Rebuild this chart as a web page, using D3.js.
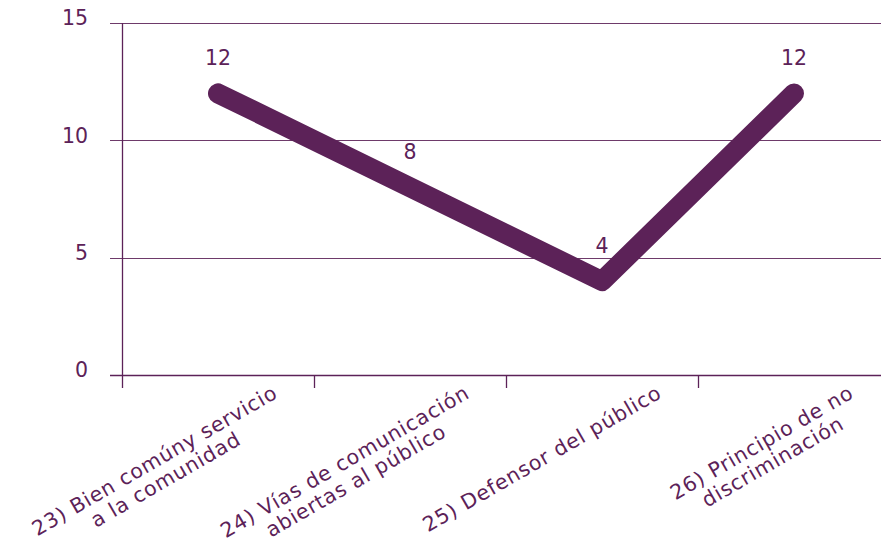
<!DOCTYPE html>
<html>
<head>
<meta charset="utf-8">
<script src="https://cdn.jsdelivr.net/npm/d3@7/dist/d3.min.js"></script>
<style>
  html, body { margin: 0; padding: 0; background: #fff; }
  svg { display: block; }
  text { font-family: "DejaVu Sans", Verdana, sans-serif; fill: #5c2258; }
</style>
</head>
<body>
<svg id="chart" width="881" height="544"></svg>
<script>
// Category labels (each inner array is one wrapped label)
const categories = [
  ["23) Bien comúny servicio", "a la comunidad"],
  ["24) Vías de comunicación", "abiertas al público"],
  ["25) Defensor del público"],
  ["26) Principio de no", "discriminación"]
];
const values = [12, 8, 4, 12];
const yTicks = [0, 5, 10, 15];

const purple = "#5c2258";
const gridColor = "#6e3a6a";
const fontSize = 20.5;

const svg = d3.select("#chart");
const margin = { left: 122, top: 23, bottom: 375 };
const plotRight = 890;

const x = d3.scaleBand()
  .domain(categories.map((d, i) => i))
  .range([margin.left, plotRight])
  .paddingInner(0).paddingOuter(0);

const y = d3.scaleLinear().domain([0, 15]).range([margin.bottom, margin.top]);

// Horizontal gridlines (with the short tick stub left of the axis)
svg.append("g")
  .selectAll("line")
  .data(yTicks.filter(t => t > 0))
  .join("line")
  .attr("x1", margin.left - 12).attr("x2", plotRight)
  .attr("y1", d => Math.round(y(d)) + 0.5).attr("y2", d => Math.round(y(d)) + 0.5)
  .attr("stroke", gridColor).attr("stroke-width", 1);

// Y axis line
svg.append("line")
  .attr("x1", margin.left + 0.5).attr("x2", margin.left + 0.5)
  .attr("y1", y(15)).attr("y2", y(0) + 13)
  .attr("stroke", purple).attr("stroke-width", 1.3);

// X axis line
svg.append("line")
  .attr("x1", margin.left - 12).attr("x2", plotRight)
  .attr("y1", Math.round(y(0)) + 0.5).attr("y2", Math.round(y(0)) + 0.5)
  .attr("stroke", purple).attr("stroke-width", 1.3);

// Category boundary ticks
svg.append("g")
  .selectAll("line")
  .data(categories.map((d, i) => i).slice(1))
  .join("line")
  .attr("x1", d => Math.round(x(d)) + 0.5).attr("x2", d => Math.round(x(d)) + 0.5)
  .attr("y1", y(0)).attr("y2", y(0) + 13)
  .attr("stroke", purple).attr("stroke-width", 1.3);

// Y tick labels
svg.append("g")
  .selectAll("text")
  .data(yTicks)
  .join("text")
  .attr("x", 88)
  .attr("y", d => y(d) - 5)
  .attr("dy", "0.36em")
  .attr("text-anchor", "end")
  .style("font-size", fontSize + "px")
  .text(d => d);

// Value line
const cx = i => x(i) + x.bandwidth() / 2;
const line = d3.line().x((d, i) => cx(i)).y(d => y(d));
svg.append("path")
  .datum(values)
  .attr("d", line)
  .attr("fill", "none")
  .attr("stroke", purple)
  .attr("stroke-width", 20)
  .attr("stroke-linecap", "round")
  .attr("stroke-linejoin", "round");

// Data labels
svg.append("g")
  .selectAll("text")
  .data(values)
  .join("text")
  .attr("x", (d, i) => cx(i))
  .attr("y", d => y(d) - 28)
  .attr("text-anchor", "middle")
  .style("font-size", fontSize + "px")
  .text(d => d);

// Rotated, wrapped category labels
const lineH = 22;
categories.forEach((lines, i) => {
  const g = svg.append("g")
    .attr("transform", `translate(${cx(i) + 53},${383}) rotate(-30)`);
  const texts = g.selectAll("text")
    .data(lines)
    .join("text")
    .style("font-size", fontSize + "px")
    .style("letter-spacing", "0.8px")
    .attr("text-anchor", "middle")
    .attr("y", (d, k) => 16 + k * lineH)
    .text(d => d);
  const w = d3.max(texts.nodes(), n => n.getComputedTextLength());
  texts.attr("x", -w / 2);
});
</script>
</body>
</html>
